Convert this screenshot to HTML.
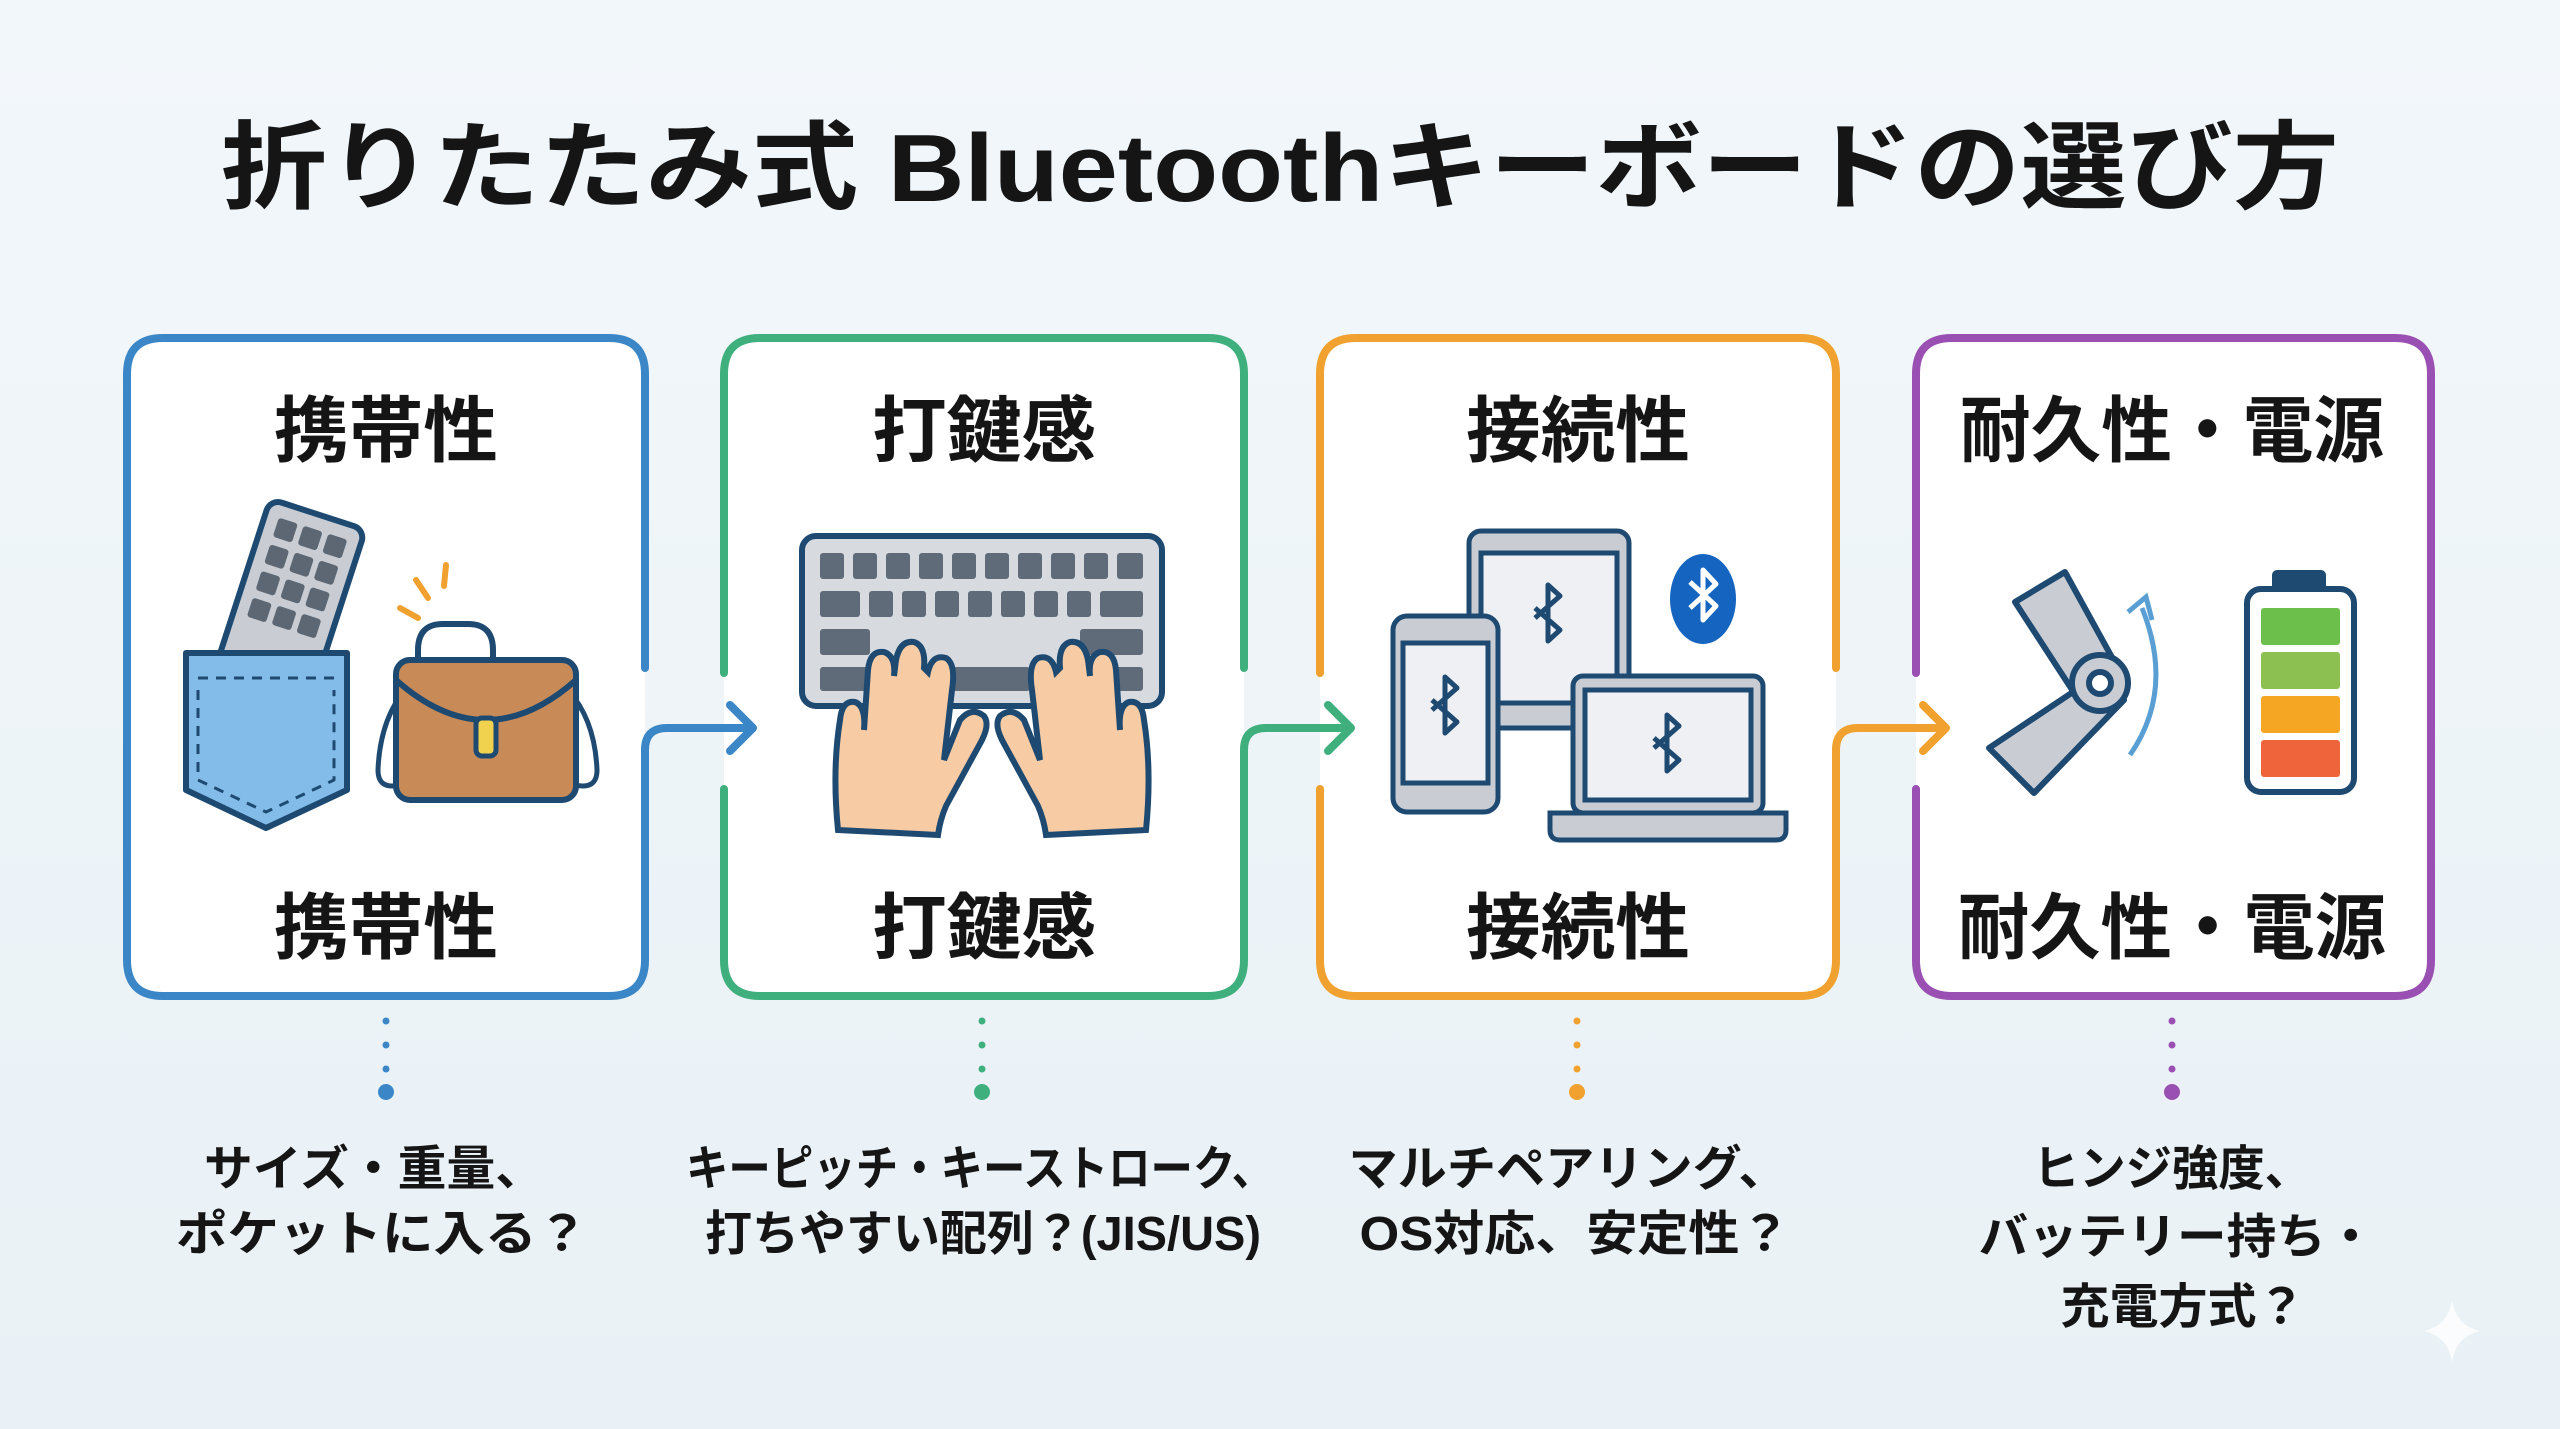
<!DOCTYPE html>
<html><head><meta charset="utf-8"><style>
html,body{margin:0;padding:0;}
body{width:2560px;height:1429px;overflow:hidden;background:linear-gradient(180deg,#f1f6f9 0%,#eaf2f6 100%);}
svg{display:block;}
text{font-family:"Liberation Sans","Noto Sans CJK JP",sans-serif;font-weight:bold;fill:#151515;}
</style></head><body>
<svg width="2560" height="1429" viewBox="0 0 2560 1429" xmlns="http://www.w3.org/2000/svg">
<defs>
<linearGradient id="bg" x1="0" y1="0" x2="0" y2="1"><stop offset="0" stop-color="#f2f7fa"/><stop offset="1" stop-color="#e9f1f6"/></linearGradient>
</defs>
<rect width="2560" height="1429" fill="url(#bg)"/>
<text x="1280" y="201" font-size="96" text-anchor="middle" textLength="2118" lengthAdjust="spacingAndGlyphs">折りたたみ式 Bluetoothキーボードの選び方</text>

<rect x="127" y="338" width="518" height="658" rx="36" fill="#fff"/>
<rect x="724" y="338" width="520" height="658" rx="36" fill="#fff"/>
<rect x="1320" y="338" width="516" height="658" rx="36" fill="#fff"/>
<rect x="1916" y="338" width="515" height="658" rx="36" fill="#fff"/>

<g fill="none" stroke-width="8" stroke-linecap="round" stroke-linejoin="round">
<path stroke="#3b86c6" d="M645,668 L645,374 Q645,338 609,338 L163,338 Q127,338 127,374 L127,960 Q127,996 163,996 L609,996 Q645,996 645,960 L645,789"/>
<path stroke="#3b86c6" d="M645,789 L645,750 Q645,728 667,728 L752,728 M730,705 L753,728 L730,751"/>
<path stroke="#3fb07d" d="M1244,668 L1244,374 Q1244,338 1208,338 L760,338 Q724,338 724,374 L724,673 M724,789 L724,960 Q724,996 760,996 L1208,996 Q1244,996 1244,960 L1244,789"/>
<path stroke="#3fb07d" d="M1244,789 L1244,750 Q1244,728 1266,728 L1350,728 M1328,705 L1351,728 L1328,751"/>
<path stroke="#f0a12f" d="M1836,668 L1836,374 Q1836,338 1800,338 L1356,338 Q1320,338 1320,374 L1320,673 M1320,789 L1320,960 Q1320,996 1356,996 L1800,996 Q1836,996 1836,960 L1836,789"/>
<path stroke="#f0a12f" d="M1836,789 L1836,750 Q1836,728 1858,728 L1945,728 M1923,705 L1946,728 L1923,751"/>
<path stroke="#9a4fb2" d="M1916,673 L1916,374 Q1916,338 1952,338 L2395,338 Q2431,338 2431,374 L2431,960 Q2431,996 2395,996 L1952,996 Q1916,996 1916,960 L1916,789"/>
</g>

<text x="386" y="456" font-size="72" text-anchor="middle" textLength="224" lengthAdjust="spacingAndGlyphs">携帯性</text>
<text x="386" y="953" font-size="72" text-anchor="middle" textLength="224" lengthAdjust="spacingAndGlyphs">携帯性</text>
<text x="984" y="456" font-size="72" text-anchor="middle" textLength="224" lengthAdjust="spacingAndGlyphs">打鍵感</text>
<text x="984" y="953" font-size="72" text-anchor="middle" textLength="224" lengthAdjust="spacingAndGlyphs">打鍵感</text>
<text x="1578" y="456" font-size="72" text-anchor="middle" textLength="224" lengthAdjust="spacingAndGlyphs">接続性</text>
<text x="1578" y="953" font-size="72" text-anchor="middle" textLength="224" lengthAdjust="spacingAndGlyphs">接続性</text>
<text x="2172" y="456" font-size="72" text-anchor="middle" textLength="424" lengthAdjust="spacingAndGlyphs">耐久性・電源</text>
<text x="2172" y="953" font-size="72" text-anchor="middle" textLength="428" lengthAdjust="spacingAndGlyphs">耐久性・電源</text>

<g stroke="#1e4a72" stroke-width="6" stroke-linejoin="round">
 <g transform="rotate(18 290 600)">
  <rect x="240" y="510" width="100" height="180" rx="12" fill="#c9cdd3"/>
  <g fill="#5d6773" stroke="none">
   <rect x="254" y="525" width="20" height="20" rx="3"/><rect x="280" y="525" width="20" height="20" rx="3"/><rect x="306" y="525" width="20" height="20" rx="3"/>
   <rect x="254" y="553" width="20" height="20" rx="3"/><rect x="280" y="553" width="20" height="20" rx="3"/><rect x="306" y="553" width="20" height="20" rx="3"/>
   <rect x="254" y="581" width="20" height="20" rx="3"/><rect x="280" y="581" width="20" height="20" rx="3"/><rect x="306" y="581" width="20" height="20" rx="3"/>
   <rect x="254" y="609" width="20" height="20" rx="3"/><rect x="280" y="609" width="20" height="20" rx="3"/><rect x="306" y="609" width="20" height="20" rx="3"/>
  </g>
 </g>
 <path d="M186,653 L347,653 L347,790 L266,828 L186,790 Z" fill="#84bce9"/>
 <path d="M198,678 L336,678 M198,690 L198,780 L266,812 L334,780 L334,690" fill="none" stroke-width="3" stroke-dasharray="10 8"/>
 <path d="M418,668 L418,650 Q418,624 443,624 L468,624 Q493,624 493,650 L493,668" fill="none"/>
 <path d="M405,690 Q380,720 378,770 Q378,790 400,785 M568,690 Q595,720 597,770 Q597,790 575,785" fill="none" stroke-width="5"/>
 <rect x="396" y="660" width="180" height="140" rx="14" fill="#c88a57"/>
 <path d="M396,680 Q486,760 576,680" fill="none"/>
 <rect x="476" y="718" width="20" height="38" rx="6" fill="#f1d24e" stroke-width="5"/>
</g>
<g stroke="#f0a12f" stroke-width="6" stroke-linecap="round">
 <line x1="400" y1="608" x2="418" y2="618"/><line x1="416" y1="580" x2="428" y2="598"/><line x1="446" y1="565" x2="444" y2="586"/>
</g>

<g stroke="#1e4a72" stroke-width="6">
 <rect x="802" y="536" width="360" height="170" rx="14" fill="#d7dbe0"/>
 <g fill="#5f6b78" stroke="none">
  <rect x="820" y="553" width="24" height="26" rx="3"/><rect x="853" y="553" width="24" height="26" rx="3"/><rect x="886" y="553" width="24" height="26" rx="3"/><rect x="919" y="553" width="24" height="26" rx="3"/><rect x="952" y="553" width="24" height="26" rx="3"/><rect x="985" y="553" width="24" height="26" rx="3"/><rect x="1018" y="553" width="24" height="26" rx="3"/><rect x="1051" y="553" width="24" height="26" rx="3"/><rect x="1084" y="553" width="24" height="26" rx="3"/><rect x="1117" y="553" width="26" height="26" rx="3"/>
  <rect x="820" y="591" width="40" height="26" rx="3"/><rect x="869" y="591" width="24" height="26" rx="3"/><rect x="902" y="591" width="24" height="26" rx="3"/><rect x="935" y="591" width="24" height="26" rx="3"/><rect x="968" y="591" width="24" height="26" rx="3"/><rect x="1001" y="591" width="24" height="26" rx="3"/><rect x="1034" y="591" width="24" height="26" rx="3"/><rect x="1067" y="591" width="24" height="26" rx="3"/><rect x="1100" y="591" width="43" height="26" rx="3"/>
  <rect x="820" y="629" width="50" height="26" rx="3"/><rect x="1080" y="629" width="63" height="26" rx="3"/>
  <rect x="820" y="667" width="60" height="24" rx="3"/><rect x="1080" y="667" width="63" height="24" rx="3"/><rect x="940" y="667" width="90" height="24" rx="3"/>
 </g>
 <path d="M838,830 Q832,770 840,720 Q842,700 855,702 Q866,706 864,730 L868,670 Q870,650 884,652 Q896,656 894,676 L896,660 Q900,640 914,642 Q926,646 924,668 L928,672 Q932,654 946,658 Q956,664 952,690 L944,760 L960,720 Q972,706 984,716 Q990,724 982,740 L946,806 Q940,820 938,835 Z" fill="#f7cba3"/>
 <path d="M1146,830 Q1152,770 1144,720 Q1142,700 1129,702 Q1118,706 1120,730 L1116,670 Q1114,650 1100,652 Q1088,656 1090,676 L1088,660 Q1084,640 1070,642 Q1058,646 1060,668 L1056,672 Q1052,654 1038,658 Q1028,664 1032,690 L1040,760 L1024,720 Q1012,706 1000,716 Q994,724 1002,740 L1038,806 Q1044,820 1046,835 Z" fill="#f7cba3"/>
</g>

<g stroke="#1e4a72" stroke-width="5">
 <rect x="1469" y="531" width="160" height="197" rx="12" fill="#c9cdd3"/>
 <rect x="1481" y="553" width="136" height="150" fill="#eef0f3"/>
 <rect x="1393" y="616" width="105" height="196" rx="14" fill="#c9cdd3"/>
 <rect x="1403" y="643" width="85" height="140" fill="#eef0f3"/>
 <rect x="1573" y="676" width="190" height="137" rx="10" fill="#c9cdd3"/>
 <rect x="1585" y="690" width="166" height="110" fill="#eef0f3"/>
 <path d="M1550,813 L1786,813 L1786,830 Q1786,840 1776,840 L1560,840 Q1550,840 1550,830 Z" fill="#c9cdd3"/>
</g>
<g fill="none" stroke="#1e4a72" stroke-width="5" stroke-linejoin="round">
 <path d="M1535,608 L1560,630 L1548,641 L1548,585 L1560,596 L1535,618"/>
 <path d="M1432,700 L1457,722 L1445,733 L1445,677 L1457,688 L1432,710"/>
 <path d="M1654,738 L1679,760 L1667,771 L1667,715 L1679,726 L1654,748"/>
</g>
<ellipse cx="1703" cy="599" rx="33" ry="45" fill="#1565c0"/>
<path d="M1690,582 L1716,606 L1703,620 L1703,570 L1716,584 L1690,608" fill="none" stroke="#fff" stroke-width="5" stroke-linejoin="round"/>

<g stroke="#1e4a72" stroke-width="6" stroke-linejoin="round">
 <path d="M2015,602 L2065,572 L2120,672 L2080,702 Z" fill="#c9cdd3"/>
 <path d="M2076,690 L2124,700 L2034,793 L1989,748 Z" fill="#c9cdd3"/>
 <circle cx="2100" cy="683" r="28" fill="#c9cdd3"/>
 <circle cx="2100" cy="683" r="11" fill="#fff"/>
</g>
<path d="M2130,755 Q2175,690 2142,608" fill="none" stroke="#5a9fd4" stroke-width="5"/>
<path d="M2128,612 L2146,597 L2152,620" fill="none" stroke="#5a9fd4" stroke-width="5"/>
<rect x="2272" y="570" width="54" height="22" rx="5" fill="#1e4a72"/>
<rect x="2247" y="589" width="107" height="203" rx="14" fill="#fff" stroke="#1e4a72" stroke-width="6"/>
<rect x="2261" y="608" width="79" height="37" rx="3" fill="#6cbf4a"/>
<rect x="2261" y="652" width="79" height="37" rx="3" fill="#8cc152"/>
<rect x="2261" y="696" width="79" height="37" rx="3" fill="#f5a623"/>
<rect x="2261" y="740" width="79" height="37" rx="3" fill="#f0643c"/>

<g fill="#3b86c6"><circle cx="386" cy="1021" r="3.5"/><circle cx="386" cy="1045" r="3.5"/><circle cx="386" cy="1069" r="3.5"/><circle cx="386" cy="1092" r="8"/></g>
<g fill="#3fb07d"><circle cx="982" cy="1021" r="3.5"/><circle cx="982" cy="1045" r="3.5"/><circle cx="982" cy="1069" r="3.5"/><circle cx="982" cy="1092" r="8"/></g>
<g fill="#f0a12f"><circle cx="1577" cy="1021" r="3.5"/><circle cx="1577" cy="1045" r="3.5"/><circle cx="1577" cy="1069" r="3.5"/><circle cx="1577" cy="1092" r="8"/></g>
<g fill="#9a4fb2"><circle cx="2172" cy="1021" r="3.5"/><circle cx="2172" cy="1045" r="3.5"/><circle cx="2172" cy="1069" r="3.5"/><circle cx="2172" cy="1092" r="8"/></g>

<g font-size="48" text-anchor="middle">
<text x="374" y="1185" textLength="340" lengthAdjust="spacingAndGlyphs">サイズ・重量、</text>
<text x="382" y="1250" textLength="412" lengthAdjust="spacingAndGlyphs">ポケットに入る？</text>
<text x="980" y="1185" textLength="588" lengthAdjust="spacingAndGlyphs">キーピッチ・キーストローク、</text>
<text x="983" y="1250" textLength="556" lengthAdjust="spacingAndGlyphs">打ちやすい配列？(JIS/US)</text>
<text x="1568" y="1185" textLength="439" lengthAdjust="spacingAndGlyphs">マルチペアリング、</text>
<text x="1575" y="1250" textLength="431" lengthAdjust="spacingAndGlyphs">OS対応、安定性？</text>
<text x="2172" y="1185" textLength="278" lengthAdjust="spacingAndGlyphs">ヒンジ強度、</text>
<text x="2177" y="1253" textLength="397" lengthAdjust="spacingAndGlyphs">バッテリー持ち・</text>
<text x="2183" y="1323" textLength="245" lengthAdjust="spacingAndGlyphs">充電方式？</text>
</g>
<path d="M2452,1300 Q2456,1326 2480,1331 Q2456,1336 2452,1362 Q2448,1336 2424,1331 Q2448,1326 2452,1300 Z" fill="#ffffff" opacity="0.8"/>
</svg>
</body></html>
